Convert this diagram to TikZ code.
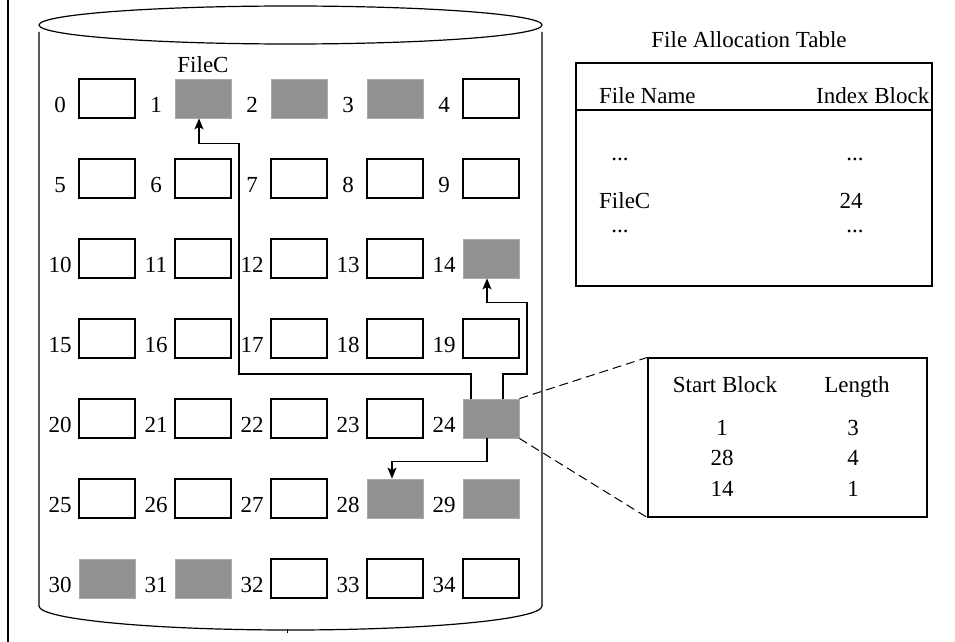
\documentclass[tikz,border=0pt]{standalone}
\usepackage{fontspec}
\setmainfont{Liberation Serif}
\usetikzlibrary{arrows.meta,calc}
\definecolor{usedgray}{RGB}{145,145,145}
\definecolor{usededge}{RGB}{170,170,170}
\begin{document}
\begin{tikzpicture}[x=1pt,y=-1pt,
  txt/.style={font=\fontsize{23}{27}\selectfont, inner sep=0pt},
  blk/.style={draw, line width=1.2pt, minimum width=56pt, minimum height=39pt, inner sep=0pt},
  used/.style={blk, fill=usedgray, draw=usededge, line width=0.8pt},
  link/.style={line width=1.2pt, -{Stealth[length=11pt,width=9pt,inset=2.5pt]}},
  zoomline/.style={line width=1pt, dash pattern=on 9pt off 5pt},
  frame/.style={draw, line width=1.3pt, inner sep=0pt}]
\useasboundingbox (0,0) rectangle (955,642);

% left border rule
\draw[line width=2.4pt] (8.2,0) -- (8.2,642);

% disk cylinder
\draw[line width=1.2pt] (290.5,25) ellipse [x radius=251.5, y radius=19];
\draw[line width=1.2pt] (39,32) -- (39,606)
  arc[start angle=180, end angle=0, x radius=251.5, y radius=24] -- (542,32);
\draw[line width=0.8pt] (287,629) -- (287,633);

% disk blocks with their numbers
\foreach \n/\s in {0/blk,1/used,2/used,3/used,4/blk,
                   5/blk,6/blk,7/blk,8/blk,9/blk,
                   10/blk,11/blk,12/blk,13/blk,14/used,
                   15/blk,16/blk,17/blk,18/blk,19/blk,
                   20/blk,21/blk,22/blk,23/blk,24/used,
                   25/blk,26/blk,27/blk,28/used,29/used,
                   30/used,31/used,32/blk,33/blk,34/blk} {
  \pgfmathtruncatemacro{\col}{mod(\n,5)}
  \pgfmathtruncatemacro{\row}{div(\n,5)}
  \node[\s] (b\n) at ({107+96*\col},{98.5+80*\row}) {};
  \node[txt, anchor=base] (l\n) at ({60+96*\col},{112+80*\row}) {\n};
}
\node[txt, anchor=base] (fc) at (203,72) {FileC};

% links held in index block 24
\draw[link] ($(b24.north)+(-20,0)$) |- (239,374) |- ($(b1.south)+(-4,25)$) -- ($(b1.south)+(-4,0)$);
\draw[link] ($(b24.north)+(12,0)$) |- (527,374) |- ($(b14.south)+(-4,24)$) -- ($(b14.south)+(-4,0)$);
\draw[link] ($(b24.south)+(-4,0)$) |- ($(b28.north)+(-3,-17)$) -- ($(b28.north)+(-3,0)$);

% file allocation table
\node[txt, anchor=base] (fattitle) at (749,48) {File Allocation Table};
\node[frame, minimum width=356pt, minimum height=223pt] (fat) at (754,174.5) {};
\draw[line width=1.3pt] (fat.west |- 0,110) -- (fat.east |- 0,110);
\node[txt, anchor=base west] (fn) at (599,103) {File Name};
\node[txt, anchor=base west] (ib) at (816,103) {Index Block};
\node[txt, anchor=base] (d1) at (620,160) {...};
\node[txt, anchor=base] (d2) at (855,160) {...};
\node[txt, anchor=base west] (fc2) at (599,208) {FileC};
\node[txt, anchor=base] (n24) at (851,208) {24};
\node[txt, anchor=base] (d3) at (620,232) {...};
\node[txt, anchor=base] (d4) at (855,232) {...};

% contents of index block 24
\node[frame, line width=1.2pt, minimum width=279pt, minimum height=159pt] (idx) at (787.5,437.5) {};
\draw[zoomline] (b24.north east) -- (idx.north west);
\draw[zoomline] (b24.south east) -- (idx.south west);
\node[txt, anchor=base] (sb) at (725,392) {Start Block};
\node[txt, anchor=base] (len) at (857,392) {Length};
\node[txt, anchor=base] (s1) at (722,435) {1};
\node[txt, anchor=base] (s2) at (722,465) {28};
\node[txt, anchor=base] (s3) at (722,496) {14};
\node[txt, anchor=base] (e1) at (853,435) {3};
\node[txt, anchor=base] (e2) at (853,465) {4};
\node[txt, anchor=base] (e3) at (853,496) {1};
\end{tikzpicture}
\end{document}
